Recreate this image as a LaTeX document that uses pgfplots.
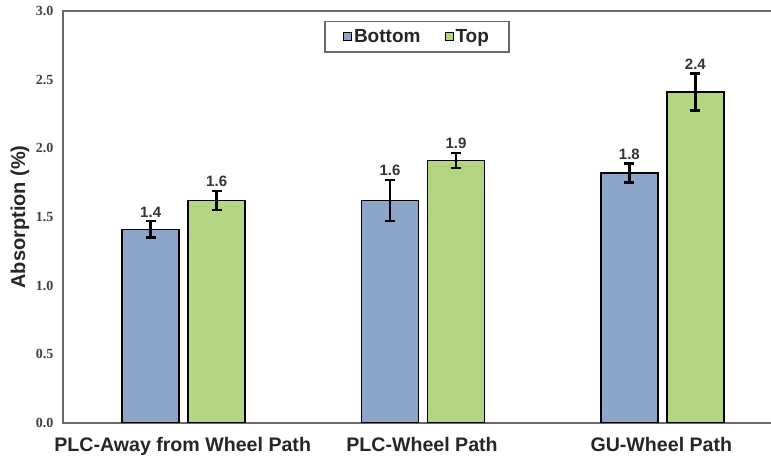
\documentclass[border=0pt]{standalone}
\usepackage{pgfplots}
\pgfplotsset{compat=1.18}
\usepackage{pgfplotstable}
\usepackage{fontspec}
\setmainfont{Liberation Sans}
\newfontfamily\tickfont{Liberation Serif}
\definecolor{cbot}{RGB}{141,165,201}
\definecolor{ctop}{RGB}{180,214,130}
\definecolor{frame}{RGB}{105,105,105}

\pgfplotstableread{
x y e lab
0 1.41 0.060 1.4
1 1.62 0.150 1.6
2 1.82 0.070 1.8
}\bottomdata
\pgfplotstableread{
x y e lab
0 1.62 0.070 1.6
1 1.91 0.055 1.9
2 2.41 0.135 2.4
}\topdata

\begin{document}
\begin{tikzpicture}
\begin{axis}[
  scale only axis,
  width=718pt, height=412pt,
  xmin=-0.5, xmax=2.5,
  ymin=0, ymax=3,
  ytick={0,0.5,1,1.5,2,2.5,3},
  yticklabel style={/pgf/number format/fixed, /pgf/number format/fixed zerofill, /pgf/number format/precision=1, /pgf/number format/assume math mode=true},
  yticklabel style={font=\tickfont\bfseries\fontsize{14}{14}\selectfont, text=black!75, xshift=-6pt},
  xtick={0,1,2},
  xticklabels={PLC-Away from Wheel Path, PLC-Wheel Path, GU-Wheel Path},
  xticklabel style={font=\bfseries\fontsize{19.6}{19.6}\selectfont, text=black!85, yshift=-11pt},
  major tick length=0pt,
  axis line style={draw=frame, line width=1.5pt},
  ybar,
  bar width=57pt,
  every axis y label/.style={at={(axis description cs:-0.0599,0.5)}, rotate=90, anchor=center},
  ylabel={\bfseries\fontsize{20}{20}\selectfont Absorption (\%)},
  ylabel style={text=black!85},
  legend style={at={(axis description cs:0.493,0.937)}, anchor=center,
    draw=frame, line width=1.5pt, legend columns=2,
    font=\bfseries\fontsize{19}{19}\selectfont, text=black!85,
    inner xsep=18pt, inner ysep=6pt,
    /tikz/every even column/.append style={column sep=22pt}},
  legend image code/.code={\draw[#1, draw=black, line width=1pt] (0pt,-4pt) rectangle (8pt,4pt);},
  error bars/error bar style={line width=2.5pt, black},
  error bars/error mark options={rotate=90, mark size=5pt, line width=2.5pt, black},
  nodes near coords,
  point meta=explicit symbolic,
  every node near coord/.append style={font=\bfseries\fontsize{15}{15}\selectfont, text=black!80, anchor=south, yshift=\eshift pt},
  visualization depends on={\thisrow{e}*137.33 \as \eshift},
]
\addplot[fill=cbot, draw=black, line width=1.5pt, bar shift=-32pt,
  error bars/.cd, y dir=both, y explicit]
  table[x=x, y=y, y error=e, meta=lab] {\bottomdata};
\addlegendentry{Bottom}
\addplot[fill=ctop, draw=black, line width=1.5pt, bar shift=34pt,
  error bars/.cd, y dir=both, y explicit]
  table[x=x, y=y, y error=e, meta=lab] {\topdata};
\addlegendentry{Top}
\coordinate (O) at (rel axis cs:0,0);
\end{axis}
\path (O) ++(-63pt,-37pt) coordinate (A);
\path (O) ++(708pt,423pt) coordinate (B);
\pgfresetboundingbox
\useasboundingbox (A) rectangle (B);
\end{tikzpicture}
\end{document}
